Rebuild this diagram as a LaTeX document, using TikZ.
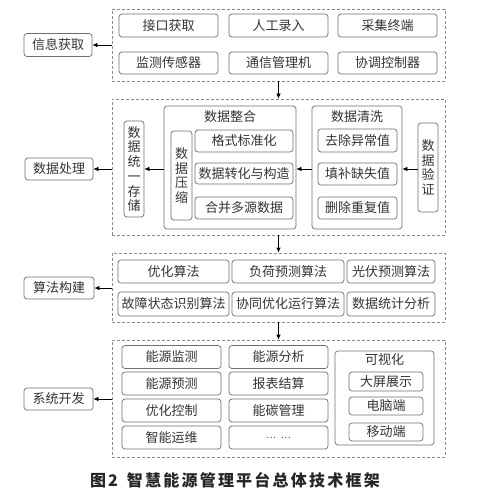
\documentclass[tikz,border=0pt]{standalone}
\usepackage{fontspec}
\setmainfont{Noto Sans CJK SC}
\usetikzlibrary{arrows.meta}
\definecolor{boxgray}{HTML}{6E6E6E}
\definecolor{dashgray}{HTML}{8A8A8A}
\definecolor{txtgray}{HTML}{333333}
\tikzset{
  box/.style={draw=boxgray, rounded corners=3pt, line width=0.7pt, text=txtgray, font=\fontsize{13}{14.7}\selectfont, inner sep=0pt},
  vbox/.style={box, align=center},
  dashbox/.style={draw=dashgray, dash pattern=on 3pt off 2pt, line width=0.7pt, inner sep=0pt},
  ttl/.style={text=txtgray, font=\fontsize{13}{14.7}\selectfont, inner sep=0pt},
  arr/.style={-{Latex[length=5pt,width=4.5pt]}, line width=0.7pt}
}

\begin{document}
\begin{tikzpicture}[x=1pt,y=-1pt]
\useasboundingbox (0,0) rectangle (476,497);

\node[dashbox, minimum width=333, minimum height=72] (acq) at (278.5,45) {};
\node[box, minimum width=68, minimum height=23] (info) at (58,45) {信息获取};
\node[box, minimum width=99, minimum height=23] (iface) at (168.5,25.5) {接口获取};
\node[box, minimum width=99, minimum height=23] (manual) at (278.5,25.5) {人工录入};
\node[box, minimum width=99, minimum height=23] (term) at (387.5,25.5) {采集终端};
\node[box, minimum width=99, minimum height=22] (sensor) at (168.5,63) {监测传感器};
\node[box, minimum width=99, minimum height=22] (comm) at (278.5,63) {通信管理机};
\node[box, minimum width=99, minimum height=22] (coord) at (387.5,63) {协调控制器};
\draw[arr] (acq.west) -- (info.east);

\node[dashbox, minimum width=333, minimum height=136] (proc) at (278.5,167) {};
\node[box, minimum width=68, minimum height=22] (procl) at (59,169) {数据处理};
\node[vbox, minimum width=20, minimum height=96] (store) at (134,169) {数\\据\\统\\一\\存\\储};
\node[box, minimum width=132, minimum height=123] (merge) at (230,167.5) {};
\node[ttl] (mergettl) at ([yshift=-11pt]merge.north) {数据整合};
\node[vbox, minimum width=21, minimum height=89] (compress) at (181.5,175.5) {数\\据\\压\\缩};
\node[box, minimum width=98, minimum height=22] (fmt) at (244,141) {格式标准化};
\node[box, minimum width=98, minimum height=21] (conv) at (244,173.5) {数据转化与构造};
\node[box, minimum width=98, minimum height=22] (multi) at (244,208) {合并多源数据};
\node[box, minimum width=90, minimum height=123] (clean) at (357,167.5) {};
\node[ttl] (cleanttl) at ([yshift=-11pt]clean.north) {数据清洗};
\node[box, minimum width=79, minimum height=23] (outlier) at (357.5,140.5) {去除异常值};
\node[box, minimum width=79, minimum height=22] (missing) at (357.5,174) {填补缺失值};
\node[box, minimum width=79, minimum height=22] (dup) at (357.5,208) {删除重复值};
\node[vbox, minimum width=20, minimum height=89] (verify) at (428,167.5) {数\\据\\验\\证};
\draw[arr] (verify.west |- procl) -- (clean.east |- procl);
\draw[arr] (clean.west |- procl) -- (merge.east |- procl);
\draw[arr] (merge.west |- procl) -- (store.east |- procl);
\draw[arr] (proc.west |- procl) -- (procl.east);
\draw[arr] (acq.south) -- (proc.north);

\node[dashbox, minimum width=333, minimum height=69] (algo) at (278.5,287.5) {};
\node[box, minimum width=70, minimum height=22] (algol) at (59,288) {算法构建};
\node[box, minimum width=111, minimum height=23] (opt) at (173.5,271.5) {优化算法};
\node[box, minimum width=112, minimum height=23] (load) at (288,271.5) {负荷预测算法};
\node[box, minimum width=88, minimum height=23] (pv) at (391,271.5) {光伏预测算法};
\node[box, minimum width=111, minimum height=24] (fault) at (173.5,304) {故障状态识别算法};
\node[box, minimum width=112, minimum height=24] (coop) at (288,304) {协同优化运行算法};
\node[box, minimum width=88, minimum height=24] (stat) at (391,304) {数据统计分析};
\draw[arr] (algo.west |- algol) -- (algol.east);
\draw[arr] (proc.south) -- (algo.north);

\node[dashbox, minimum width=333, minimum height=117] (dev) at (278.5,398.5) {};
\node[box, minimum width=69, minimum height=22] (devl) at (58.5,399) {系统开发};
\node[box, minimum width=99, minimum height=23] (monitor) at (171.5,357) {能源监测};
\node[box, minimum width=99, minimum height=23] (predict) at (171.5,383.5) {能源预测};
\node[box, minimum width=99, minimum height=23] (control) at (171.5,410.5) {优化控制};
\node[box, minimum width=99, minimum height=23] (om) at (171.5,437.5) {智能运维};
\node[box, minimum width=99, minimum height=23] (analysis) at (278.5,357) {能源分析};
\node[box, minimum width=99, minimum height=23] (report) at (278.5,383.5) {报表结算};
\node[box, minimum width=99, minimum height=23] (carbon) at (278.5,410.5) {能碳管理};
\node[box, minimum width=99, minimum height=23] (more) at (278.5,437.5) {\fontsize{9}{9}\selectfont …\hspace{5pt}…};
\node[box, minimum width=99, minimum height=94] (vis) at (384.5,398) {};
\node[ttl] (visttl) at ([yshift=-9pt]vis.north) {可视化};
\node[box, minimum width=74, minimum height=19] (screen) at (386,381.5) {大屏展示};
\node[box, minimum width=74, minimum height=18] (pc) at (386,406) {电脑端};
\node[box, minimum width=74, minimum height=18] (mobile) at (386,432) {移动端};
\draw[arr] (dev.west |- devl) -- (devl.east);
\draw[arr] (algo.south) -- (dev.north);

\node[text=black!85, inner sep=0pt, font=\fontsize{16}{16}\selectfont\bfseries] (cap) at (235,480) {图\hspace{2pt}2\hspace{9pt}\addfontfeature{LetterSpace=14}智慧能源管理平台总体技术框架};
\end{tikzpicture}
\end{document}
